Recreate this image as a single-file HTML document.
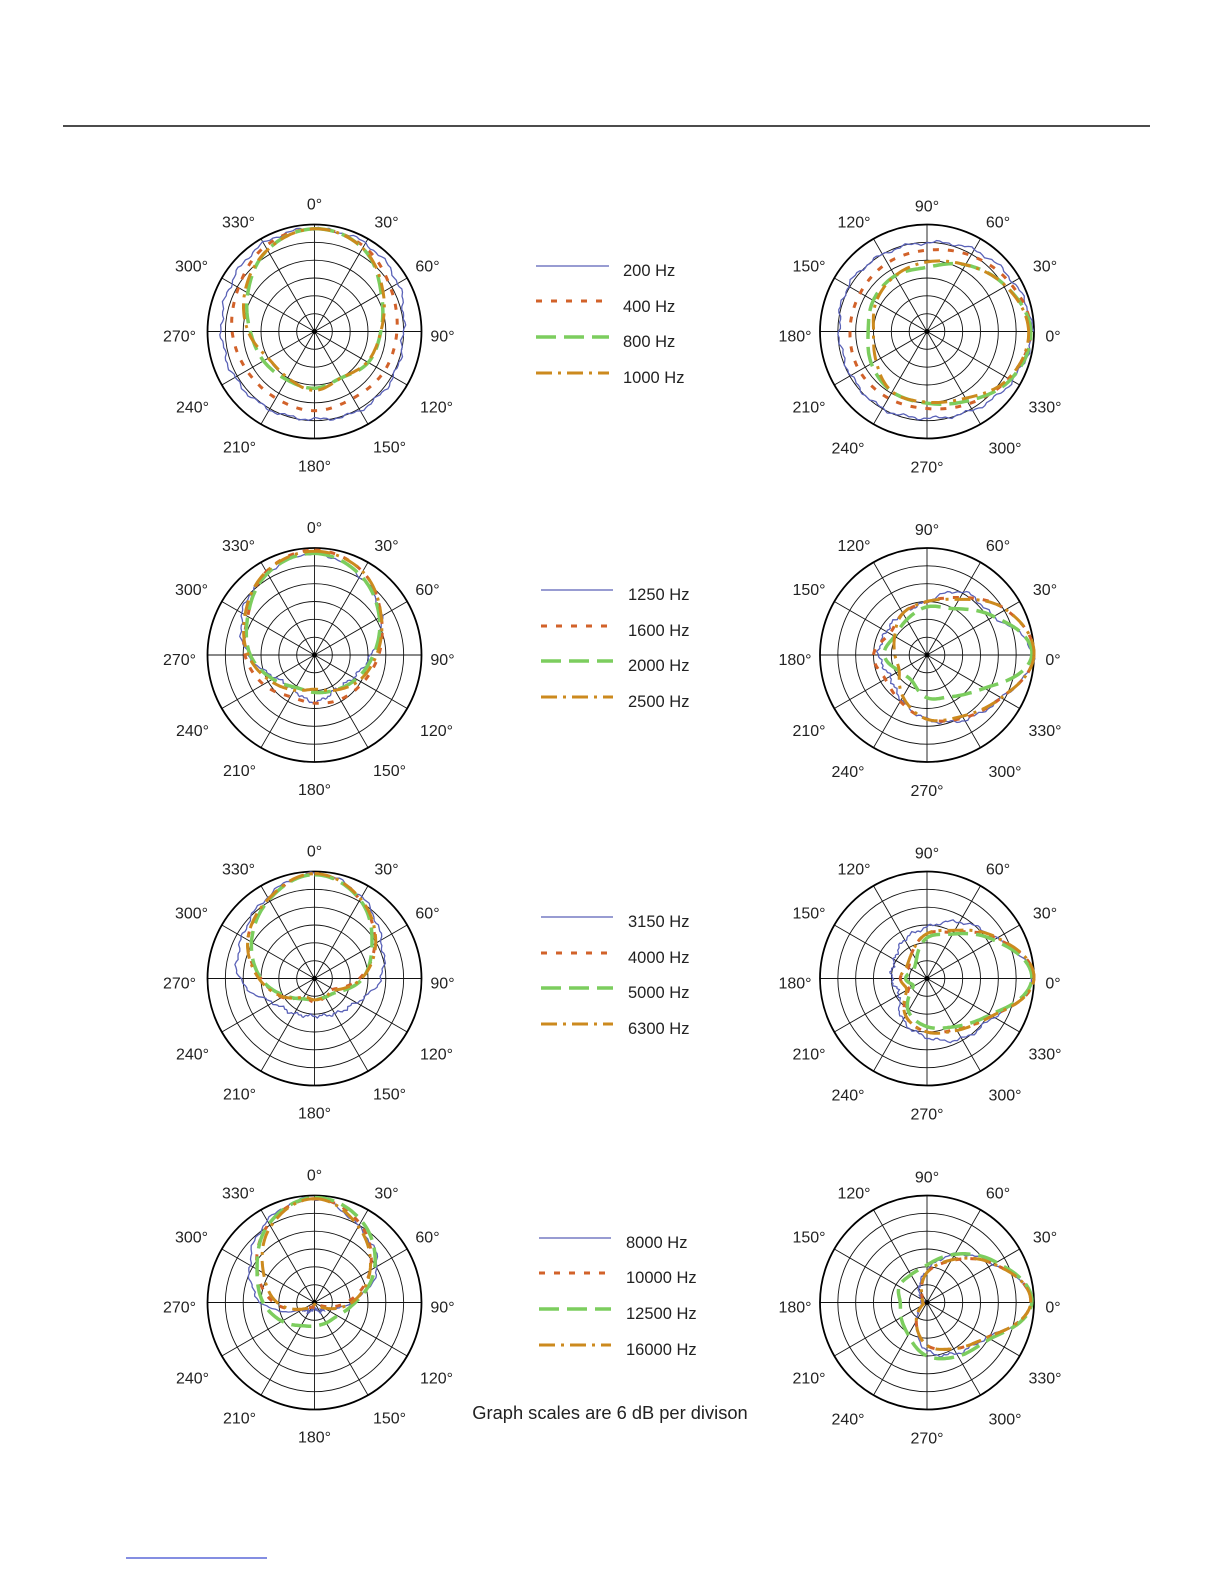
<!DOCTYPE html>
<html><head><meta charset="utf-8"><style>
html,body{margin:0;padding:0;background:#fff;}
svg{display:block;}
text{font-family:"Liberation Sans",Arial,sans-serif;fill:#222;}
</style></head><body>
<svg id="s" width="1224" height="1584" viewBox="0 0 1224 1584" xmlns="http://www.w3.org/2000/svg">
<line x1="63" y1="126" x2="1150" y2="126" stroke="#111" stroke-width="1.6"/>
<line x1="126" y1="1558" x2="267" y2="1558" stroke="#3a4ad0" stroke-width="1.2"/>
<g id="g"></g>
<g font-size="16.5">
<text x="623" y="276">200 Hz</text><text x="623" y="312">400 Hz</text><text x="623" y="347">800 Hz</text><text x="623" y="383">1000 Hz</text>
<text x="628" y="600">1250 Hz</text><text x="628" y="636">1600 Hz</text><text x="628" y="671">2000 Hz</text><text x="628" y="707">2500 Hz</text>
<text x="628" y="927">3150 Hz</text><text x="628" y="963">4000 Hz</text><text x="628" y="998">5000 Hz</text><text x="628" y="1034">6300 Hz</text>
<text x="626" y="1248">8000 Hz</text><text x="626" y="1283">10000 Hz</text><text x="626" y="1319">12500 Hz</text><text x="626" y="1355">16000 Hz</text>
</g>
<text x="610" y="1419" font-size="18.3" text-anchor="middle">Graph scales are 6 dB per divison</text>
<g id="labels" font-size="16" text-anchor="middle"></g>
</svg>
<script>
var NS="http://www.w3.org/2000/svg";
var G=document.getElementById('g'),L=document.getElementById('labels');
function el(t,a,p){var e=document.createElementNS(NS,t);for(var k in a)e.setAttribute(k,a[k]);(p||G).appendChild(e);return e;}
var STY=[
 {stroke:"#5a62b8","stroke-width":1.3,fill:"none"},
 {stroke:"#d2622a","stroke-width":3,fill:"none","stroke-dasharray":"6 9"},
 {stroke:"#7ccd5e","stroke-width":3.5,fill:"none","stroke-dasharray":"20 8"},
 {stroke:"#cc8a1e","stroke-width":3,fill:"none","stroke-dasharray":"16 6 3 6"}
];
var R=107;
var centersY=[331.5,655,978.5,1302.5];
var LX=314.5,RX=927;
var DATA=[
 [[.96,.95,.9,.83,.85,.85,.82,.84,.86,.87,.9,.95],[.96,.92,.82,.77,.75,.72,.74,.72,.73,.77,.82,.92],[.96,.9,.72,.62,.58,.5,.53,.52,.55,.6,.72,.88],[.96,.9,.74,.62,.57,.5,.55,.5,.5,.62,.75,.88]],
 [[.95,.85,.72,.53,.42,.38,.44,.38,.42,.62,.78,.88],[.98,.9,.72,.6,.52,.48,.45,.45,.55,.65,.72,.9],[.95,.86,.7,.55,.45,.38,.35,.35,.45,.6,.72,.88],[.97,.9,.72,.58,.48,.38,.32,.38,.48,.62,.75,.9]],
 [[.98,.88,.72,.62,.45,.38,.35,.38,.45,.7,.78,.88],[.98,.85,.65,.42,.2,.2,.22,.2,.35,.5,.72,.85],[.97,.85,.62,.45,.25,.2,.2,.22,.32,.5,.68,.85],[.98,.86,.66,.44,.22,.2,.2,.2,.34,.52,.72,.86]],
 [[.97,.82,.68,.35,.12,.1,.05,.1,.15,.5,.7,.88],[.97,.85,.6,.3,.05,.05,.05,.05,.12,.38,.62,.85],[.98,.88,.65,.38,.25,.22,.22,.25,.35,.48,.62,.85],[.97,.82,.6,.35,.1,.05,.02,.05,.12,.35,.55,.82]]
];
var DATAR=[
 [[.98,.93,.88,.83,.83,.85,.82,.82,.83,.81,.85,.92],[.97,.9,.82,.76,.74,.72,.72,.73,.72,.72,.78,.88],[.97,.85,.72,.6,.6,.58,.55,.6,.65,.67,.75,.9],[.95,.85,.72,.65,.6,.55,.5,.55,.65,.66,.72,.88]],
 [[.99,.72,.68,.5,.45,.44,.45,.4,.48,.6,.7,.8],[1,.85,.62,.5,.45,.4,.5,.45,.5,.6,.68,.8],[.98,.72,.5,.45,.38,.35,.4,.3,.28,.4,.45,.62],[1,.85,.6,.5,.45,.35,.3,.3,.45,.6,.66,.8]],
 [[.98,.75,.61,.48,.42,.35,.33,.3,.45,.55,.65,.72],[1,.75,.5,.42,.28,.2,.25,.2,.4,.5,.55,.7],[.98,.72,.48,.38,.2,.15,.2,.15,.35,.45,.52,.68],[1,.76,.52,.42,.28,.22,.25,.22,.4,.5,.56,.7]],
 [[.98,.72,.52,.3,.15,.05,.05,.05,.2,.45,.55,.65],[.97,.72,.45,.28,.1,.05,.05,.05,.2,.4,.5,.65],[.98,.75,.52,.35,.3,.3,.25,.28,.35,.5,.58,.68],[.97,.72,.46,.28,.1,.05,.04,.05,.2,.4,.5,.65]]
];
function interp(v,a){var t=((a%360)+360)%360/30;var i=Math.floor(t),f=t-i;
 var p0=v[(i+11)%12],p1=v[i%12],p2=v[(i+1)%12],p3=v[(i+2)%12];
 return 0.5*((2*p1)+(-p0+p2)*f+(2*p0-5*p1+4*p2-p3)*f*f+(-p0+3*p1-3*p2+p3)*f*f*f);}
function pt(cx,cy,r,a,left){var rad=a*Math.PI/180;
 return left?[cx+r*Math.sin(rad),cy-r*Math.cos(rad)]:[cx+r*Math.cos(rad),cy-r*Math.sin(rad)];}
function grid(cx,cy){
 for(var k=1;k<=5;k++)el('circle',{cx:cx,cy:cy,r:R*k/6,fill:'none',stroke:'#111','stroke-width':0.9});
 for(var a=0;a<360;a+=30){var p=pt(cx,cy,R,a,true);el('line',{x1:cx,y1:cy,x2:p[0].toFixed(1),y2:p[1].toFixed(1),stroke:'#111','stroke-width':0.9});}
 el('circle',{cx:cx,cy:cy,r:R,fill:'none',stroke:'#000','stroke-width':1.8});
 el('circle',{cx:cx,cy:cy,r:2.5,fill:'#000'});
}
function curves(cx,cy,D,left,seed){
 for(var s=0;s<4;s++){var d='';
  for(var a=0;a<=360;a+=2){var f=interp(D[s],a);
   if(s==0)f+=0.012*Math.sin(a*0.31+seed)+0.008*Math.sin(a*0.9+seed*2);
   f=Math.max(f,0.01);var p=pt(cx,cy,R*f,a,left);d+=(a?'L':'M')+p[0].toFixed(1)+' '+p[1].toFixed(1);}
  var o={d:d};for(var k in STY[s])o[k]=STY[s][k];el('path',o);}
}
var LOFF=[[0,-128],[72,-110],[113,-66],[128,4],[122,75],[75,115],[0,134],[-75,115],[-122,75],[-135,4],[-123,-66],[-76,-110]];
var LLAB=['0°','30°','60°','90°','120°','150°','180°','210°','240°','270°','300°','330°'];
var ROFF=[[126,4],[118,-66],[71,-110],[0,-126],[-73,-110],[-118,-66],[-132,4],[-118,75],[-79,116],[0,135],[78,116],[118,75]];
var RLAB=['0°','30°','60°','90°','120°','150°','180°','210°','240°','270°','300°','330°'];
for(var r=0;r<4;r++){var cy=centersY[r];
 grid(LX,cy);grid(RX,cy);
 curves(LX,cy,DATA[r],true,r*1.7);
 curves(RX,cy,DATAR[r],false,r*2.3+1);
 for(var i=0;i<12;i++){
  var t=el('text',{x:LX+LOFF[i][0],y:cy+LOFF[i][1]+6},L);t.textContent=LLAB[i];
  var t2=el('text',{x:RX+ROFF[i][0],y:cy+ROFF[i][1]+6},L);t2.textContent=RLAB[i];}
}
var LEG=[[536,609,[266,301,337,373]],[541,613,[590,626,661,697]],[541,613,[917,953,988,1024]],[539,611,[1238,1273,1309,1345]]];
LEG.forEach(function(l){for(var s=0;s<4;s++){var o={x1:l[0],x2:l[1],y1:l[2][s],y2:l[2][s]};for(var k in STY[s])o[k]=STY[s][k];el('line',o);}});
</script>
</body></html>
